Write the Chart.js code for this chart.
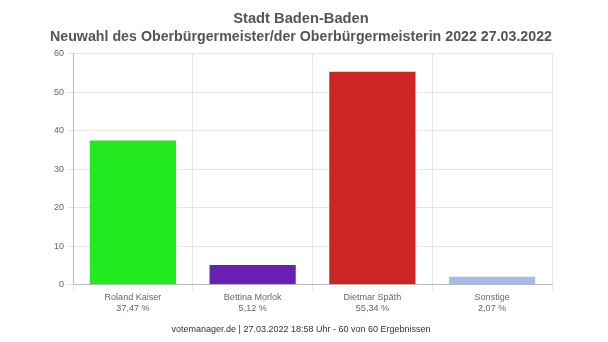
<!DOCTYPE html>
<html><head><meta charset="utf-8">
<script src="https://cdn.jsdelivr.net/npm/chart.js@4/dist/chart.umd.min.js"></script>
<style>html,body{margin:0;padding:0;background:#fff;}#wrap{width:608px;height:342px;}</style>
</head><body><div id="wrap"><canvas id="c" width="608" height="342"></canvas></div>
<script>
const categories = ["Roland Kaiser", "Bettina Morlok", "Dietmar Späth", "Sonstige"];
const percentLabels = ["37,47 %", "5,12 %", "55,34 %", "2,07 %"];
const values = [37.47, 5.12, 55.34, 2.07];
const barColors = ["#22ea1f", "#6a1fb3", "#cc2526", "#a9bae6"];
const titleLines = ["Stadt Baden-Baden", "Neuwahl des Oberbürgermeister/der Oberbürgermeisterin 2022 27.03.2022"];
const footerText = "votemanager.de | 27.03.2022 18:58 Uhr - 60 von 60 Ergebnissen";

Chart.defaults.font.family = "'Liberation Sans', Arial, sans-serif";
new Chart(document.getElementById('c'), {
  type: 'bar',
  data: {
    labels: categories.map((c, i) => [c, percentLabels[i]]),
    datasets: [{ data: values, backgroundColor: barColors, borderWidth: 0 }]
  },
  options: {
    responsive: false,
    animation: false,
    layout: { padding: { left: 50, right: 56, top: 10, bottom: 1 } },
    plugins: {
      legend: { display: false },
      tooltip: { enabled: false },
      title: { display: true, text: titleLines, color: '#555', font: { size: 14.7, weight: 'bold', lineHeight: 1.22 }, padding: { top: 0, bottom: 8 } },
      subtitle: { display: true, position: 'bottom', text: footerText, color: '#333', font: { size: 9 }, padding: { top: 8, bottom: 6 } }
    },
    scales: {
      x: {
        grid: { color: '#e6e6e6', tickLength: 6 },
        border: { color: '#bbb' },
        ticks: { color: '#666', font: { size: 9 }, padding: 2 }
      },
      y: {
        min: 0, max: 60,
        ticks: { stepSize: 10, color: '#666', font: { size: 9 }, padding: 4 },
        grid: { color: '#e6e6e6', tickLength: 5 },
        border: { color: '#bbb' }
      }
    }
  }
});
</script></body></html>
